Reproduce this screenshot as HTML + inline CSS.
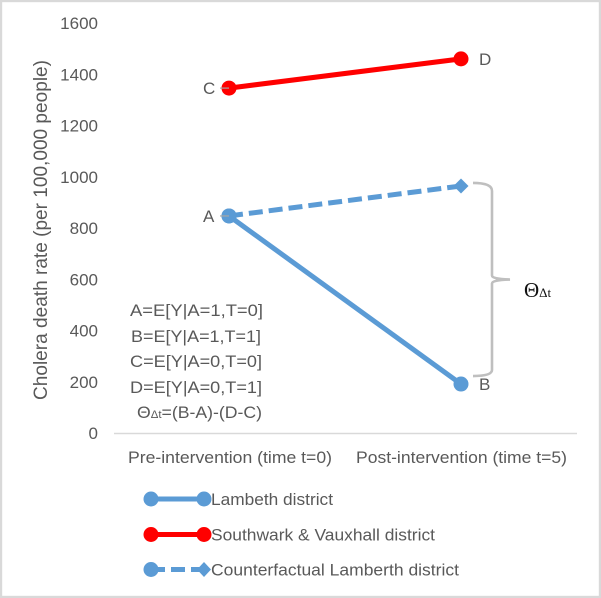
<!DOCTYPE html>
<html lang="en">
<head>
<meta charset="utf-8">
<title>Cholera death rate difference-in-differences chart</title>
<style>
html,body{margin:0;padding:0;background:#fff;}
body{width:601px;height:598px;overflow:hidden;}
svg{display:block;font-family:"Liberation Sans",sans-serif;}
text{fill:#595959;}
</style>
</head>
<body>
<svg id="chart" xmlns="http://www.w3.org/2000/svg" width="601" height="598" viewBox="0 0 601 598">
  <rect x="1" y="1" width="599" height="596" fill="#fff" stroke="#d9d9d9" stroke-width="2.4"/>
  <g id="y-ticks"></g>
  <line x1="114" x2="577" y1="433.5" y2="433.5" stroke="#d9d9d9" stroke-width="1.4"/>
  <g id="x-ticks"></g>
  <text transform="translate(47,230) rotate(-90)" text-anchor="middle" font-size="19" textLength="340" lengthAdjust="spacingAndGlyphs">Cholera death rate (per 100,000 people)</text>
  <g id="series"></g>
  <path id="brace" fill="none" stroke="#bfbfbf" stroke-width="2.6"/>
  <text x="524" y="297" font-family="'Liberation Serif',serif" font-size="21" style="fill:#111">Θ<tspan font-size="13">Δt</tspan></text>
  <g font-size="17">
    <text x="130" y="316" textLength="133" lengthAdjust="spacingAndGlyphs">A=E[Y|A=1,T=0]</text>
    <text x="131" y="342" textLength="130" lengthAdjust="spacingAndGlyphs">B=E[Y|A=1,T=1]</text>
    <text x="130" y="367" textLength="132" lengthAdjust="spacingAndGlyphs">C=E[Y|A=0,T=0]</text>
    <text x="130" y="393" textLength="132" lengthAdjust="spacingAndGlyphs">D=E[Y|A=0,T=1]</text>
    <text x="137" y="418" textLength="125" lengthAdjust="spacingAndGlyphs">Θ<tspan font-size="11">Δt</tspan>=(B-A)-(D-C)</text>
  </g>
  <g font-size="17">
    <g>
      <line x1="151" x2="204" y1="499" y2="499" stroke="#5b9bd5" stroke-width="5"/>
      <circle cx="151" cy="499" r="7.5" fill="#5b9bd5"/>
      <circle cx="204" cy="499" r="7.5" fill="#5b9bd5"/>
      <text x="211" y="505" textLength="122" lengthAdjust="spacingAndGlyphs">Lambeth district</text>
    </g>
    <g>
      <line x1="151" x2="204" y1="534.5" y2="534.5" stroke="#ff0000" stroke-width="5"/>
      <circle cx="151" cy="534.5" r="7.5" fill="#ff0000"/>
      <circle cx="204" cy="534.5" r="7.5" fill="#ff0000"/>
      <text x="211" y="540.5" textLength="224" lengthAdjust="spacingAndGlyphs">Southwark &amp; Vauxhall district</text>
    </g>
    <g>
      <line x1="151" x2="204" y1="569.5" y2="569.5" stroke="#5b9bd5" stroke-width="5" stroke-dasharray="14 6"/>
      <circle cx="151" cy="569.5" r="7.5" fill="#5b9bd5"/>
      <polygon points="204,562 211,569.5 204,577 197,569.5" fill="#5b9bd5"/>
      <text x="211" y="575.5" textLength="248" lengthAdjust="spacingAndGlyphs">Counterfactual Lamberth district</text>
    </g>
  </g>
</svg>
<script>
const categories = ["Pre-intervention (time t=0)", "Post-intervention (time t=5)"];
const yTickLabels = [0, 200, 400, 600, 800, 1000, 1200, 1400, 1600];
const lambethValues = [847, 191];
const southwarkValues = [1346, 1460];
const counterfactualValues = [847, 964];
const lambethPointLabels = ["A", "B"];
const southwarkPointLabels = ["C", "D"];

const NS = "http://www.w3.org/2000/svg";
function xScale(i) { return 229 + i * 232; }
function yScale(v) { return 433 - v * 410 / 1600; }
function make(tag, attrs, parent) {
  const el = document.createElementNS(NS, tag);
  for (const k in attrs) el.setAttribute(k, attrs[k]);
  parent.appendChild(el);
  return el;
}

const yTicks = document.getElementById("y-ticks");
yTickLabels.forEach(function (v) {
  const t = make("text", { x: 98, y: yScale(v) + 6, "text-anchor": "end", "font-size": 17 }, yTicks);
  
  
  t.textContent = v;
});

const xTicks = document.getElementById("x-ticks");
const xTickWidths = [204, 211];
categories.forEach(function (c, i) {
  const t = make("text", { x: xScale(i) + (i ? 0.5 : 1), y: 463, "text-anchor": "middle", "font-size": 17, textLength: xTickWidths[i], lengthAdjust: "spacingAndGlyphs" }, xTicks);
  
  
  t.textContent = c;
});

const seriesGroup = document.getElementById("series");
function drawLine(values, color, dash, name) {
  const pts = values.map(function (v, i) { return xScale(i) + "," + yScale(v); }).join(" ");
  const attrs = { points: pts, fill: "none", stroke: color, "stroke-width": 5 };
  if (dash) attrs["stroke-dasharray"] = dash;
  const p = make("polyline", attrs, seriesGroup);
  
  
}
function drawCircle(i, v, color) {
  const c = make("circle", { cx: xScale(i), cy: yScale(v), r: 7.5, fill: color }, seriesGroup);
  
  
}
function drawDiamond(i, v, color) {
  const x = xScale(i), y = yScale(v), s = 7.5;
  const d = make("polygon", { points: [x, y - s, x + s, y, x, y + s, x - s, y].join(" "), fill: color }, seriesGroup);
  
  
}
function drawPointLabel(i, v, label) {
  const left = i === 0;
  const x = xScale(i), y = yScale(v);
  if (left) {
    const l = make("line", { x1: x - 9, x2: x, y1: y, y2: y, stroke: "#a6a6a6", "stroke-width": 1.2 }, seriesGroup);
    
    
  }
  const t = make("text", { x: left ? x - 26 : x + 18, y: y + 6, "font-size": 17 }, seriesGroup);
  
  
  t.textContent = label;
}

drawLine(counterfactualValues, "#5b9bd5", "14 6", "counterfactual-line");
drawLine(lambethValues, "#5b9bd5", null, "lambeth-line");
drawLine(southwarkValues, "#ff0000", null, "southwark-line");
drawCircle(0, counterfactualValues[0], "#5b9bd5");
drawDiamond(1, counterfactualValues[1], "#5b9bd5");
lambethValues.forEach(function (v, i) { drawCircle(i, v, "#5b9bd5"); });
southwarkValues.forEach(function (v, i) { drawCircle(i, v, "#ff0000"); });
lambethValues.forEach(function (v, i) { drawPointLabel(i, v, lambethPointLabels[i]); });
southwarkValues.forEach(function (v, i) { drawPointLabel(i, v, southwarkPointLabels[i]); });

const braceTop = yScale(counterfactualValues[1]) - 3;
const braceBottom = yScale(lambethValues[1]) - 8;
const braceMid = (braceTop + braceBottom) / 2;
document.getElementById("brace").setAttribute("d",
  "M473 " + braceTop +
  " Q492 " + braceTop + " 492 " + (braceTop + 8) +
  " L492 " + (braceMid - 4) +
  " Q492 " + (braceMid - 0.5) + " 510 " + braceMid +
  " Q492 " + (braceMid + 0.5) + " 492 " + (braceMid + 4) +
  " L492 " + (braceBottom - 6) +
  " Q492 " + braceBottom + " 473 " + braceBottom);
</script>
</body>
</html>
